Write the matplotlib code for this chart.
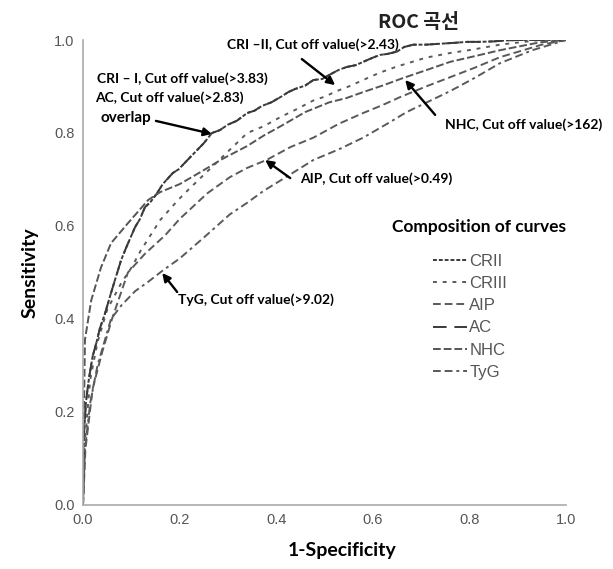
import matplotlib
matplotlib.use("Agg")
import matplotlib.pyplot as plt
from matplotlib.lines import Line2D

# ROC curve points (1-specificity, sensitivity)
cri1_x = [0, 0.002, 0.006, 0.012, 0.02, 0.028, 0.035, 0.045, 0.058, 0.068,
          0.079, 0.09, 0.108, 0.118, 0.128, 0.14, 0.153, 0.165, 0.186, 0.198,
          0.21, 0.222, 0.236, 0.25, 0.267, 0.283, 0.3, 0.318, 0.34, 0.355,
          0.37, 0.39, 0.41, 0.425, 0.44, 0.46, 0.477, 0.495, 0.51, 0.53,
          0.546, 0.565, 0.58, 0.6, 0.615, 0.63, 0.65, 0.665, 0.684, 0.71,
          0.74, 0.77, 0.795, 0.82, 0.85, 0.875, 0.9, 0.95, 1.0]
cri1_y = [0, 0.15, 0.22, 0.27, 0.32, 0.35, 0.38, 0.41, 0.456, 0.49,
          0.527, 0.555, 0.598, 0.615, 0.64, 0.652, 0.67, 0.69, 0.714, 0.722,
          0.735, 0.748, 0.763, 0.778, 0.80, 0.806, 0.818, 0.826, 0.843, 0.848,
          0.858, 0.866, 0.878, 0.888, 0.895, 0.902, 0.914, 0.916, 0.925, 0.936,
          0.942, 0.946, 0.953, 0.962, 0.968, 0.97, 0.975, 0.985, 0.99, 0.99,
          0.992, 0.994, 0.996, 0.996, 0.997, 0.999, 1.0, 1.0, 1.0]
# AC overlaps CRI-I
ac_x = list(cri1_x)
ac_y = list(cri1_y)

cri2_x = [0, 0.005, 0.015, 0.03, 0.05, 0.079, 0.1, 0.12, 0.16, 0.197, 0.22, 0.25, 0.275,
          0.3, 0.34, 0.375, 0.41, 0.44, 0.477, 0.5, 0.525, 0.55, 0.58, 0.615, 0.65, 0.71,
          0.76, 0.81, 0.863, 0.946, 1.0]
cri2_y = [0, 0.15, 0.27, 0.35, 0.42, 0.477, 0.51, 0.548, 0.613, 0.656, 0.68, 0.71, 0.735,
          0.76, 0.80, 0.815, 0.835, 0.85, 0.87, 0.878, 0.89, 0.9, 0.914, 0.93, 0.943, 0.962,
          0.972, 0.98, 0.99, 1.0, 1.0]

nhc_x = [0, 0.002, 0.004, 0.017, 0.037, 0.058, 0.093, 0.135, 0.16, 0.2, 0.24, 0.29, 0.34,
         0.375, 0.41, 0.46, 0.51, 0.545, 0.58, 0.62, 0.662, 0.71, 0.76, 0.81, 0.863, 0.946, 1.0]
nhc_y = [0, 0.2, 0.355, 0.44, 0.51, 0.563, 0.606, 0.656, 0.673, 0.69, 0.714, 0.745, 0.772,
         0.795, 0.815, 0.845, 0.866, 0.875, 0.888, 0.902, 0.918, 0.935, 0.953, 0.965, 0.978,
         0.995, 1.0]

aip_x = [0, 0.005, 0.02, 0.04, 0.06, 0.093, 0.128, 0.17, 0.2, 0.257, 0.304, 0.34, 0.38,
         0.43, 0.477, 0.53, 0.58, 0.62, 0.656, 0.71, 0.76, 0.81, 0.863, 0.95, 1.0]
aip_y = [0, 0.12, 0.25, 0.33, 0.40, 0.50, 0.54, 0.58, 0.615, 0.67, 0.705, 0.725, 0.742,
         0.77, 0.79, 0.82, 0.843, 0.86, 0.877, 0.9, 0.92, 0.94, 0.963, 0.99, 1.0]

tyg_x = [0, 0.004, 0.015, 0.03, 0.058, 0.08, 0.108, 0.135, 0.166, 0.2, 0.25, 0.304, 0.34,
         0.373, 0.42, 0.477, 0.53, 0.58, 0.63, 0.67, 0.71, 0.76, 0.81, 0.863, 0.93, 1.0]
tyg_y = [0, 0.12, 0.22, 0.30, 0.40, 0.43, 0.46, 0.48, 0.505, 0.53, 0.575, 0.625, 0.65,
         0.675, 0.705, 0.742, 0.765, 0.79, 0.82, 0.845, 0.865, 0.89, 0.918, 0.95, 0.978, 1.0]

curve_names = ["CRII", "CRIII", "AIP", "AC", "NHC", "TyG"]
ticks = [0.0, 0.2, 0.4, 0.6, 0.8, 1.0]

styles = {
    "CRII": dict(ls=(0, (2, 1)), color="#3a3a3a"),
    "CRIII": dict(ls=(0, (2, 3)), color="#5a5a5a"),
    "AIP": dict(ls=(0, (4, 2)), color="#5a5a5a"),
    "AC": dict(ls=(0, (7, 4)), color="#3a3a3a"),
    "NHC": dict(ls=(0, (4, 1.5)), color="#555555"),
    "TyG": dict(ls=(0, (4, 2, 4, 2, 1.5, 2)), color="#5a5a5a"),
}
data = {
    "CRII": (cri1_x, cri1_y),
    "CRIII": (cri2_x, cri2_y),
    "AIP": (aip_x, aip_y),
    "AC": (ac_x, ac_y),
    "NHC": (nhc_x, nhc_y),
    "TyG": (tyg_x, tyg_y),
}

fig = plt.figure(figsize=(6.13, 5.69), dpi=100)
ax = fig.add_axes([0.1354, 0.1125, 0.788, 0.8172])

for name in curve_names:
    x, y = data[name]
    ax.plot(x, y, lw=1.4, **styles[name])

ax.set_xlim(0, 1)
ax.set_ylim(0, 1)
ax.set_xticks(ticks)
ax.set_yticks(ticks)
ax.set_xticklabels([f"{t:.1f}" for t in ticks], family="Liberation Sans", fontsize=10.5, color="#555555")
ax.set_yticklabels([f"{t:.1f}" for t in ticks], family="Liberation Sans", fontsize=10.5, color="#555555")
ax.tick_params(length=0, pad=6)
for s in ["top", "right"]:
    ax.spines[s].set_visible(False)
for s in ["left", "bottom"]:
    ax.spines[s].set_color("#aaaaaa")
    ax.spines[s].set_linewidth(1.2)

ax.set_xlabel("1-Specificity", fontsize=14, fontweight="bold", family="Lato", va="center")
ax.set_ylabel("Sensitivity", fontsize=14, fontweight="bold", family="Lato", va="center")
ax.xaxis.set_label_coords(0.536, -0.097)
ax.yaxis.set_label_coords(-0.11, 0.5)
fig.text(0.682, 0.961, "ROC 곡선", ha="center", va="center", fontsize=14, fontweight="bold",
         family=["Noto Sans CJK KR", "DejaVu Sans"], color="#222222")

# annotations
font = dict(family="Lato", fontweight="bold", fontsize=10, color="black")
arrow = dict(arrowstyle="-|>", color="black", lw=1.7, mutation_scale=12, shrinkA=0, shrinkB=0)

ax.text(0.475, 0.989, "CRI –II, Cut off value(>2.43)", ha="center", va="center", **font)
ax.annotate("", xy=(0.522, 0.903), xytext=(0.453, 0.959), arrowprops=arrow)

ax.text(0.029, 0.916, "CRI – I, Cut off value(>3.83)", ha="left", va="center", **font)
ax.text(0.025, 0.877, "AC, Cut off value(>2.83)", ha="left", va="center", **font)
ax.text(0.037, 0.832, "overlap", ha="left", va="center", family="Lato", fontweight="bold",
        fontsize=11, color="black")
ax.annotate("", xy=(0.267, 0.798), xytext=(0.151, 0.826), arrowprops=arrow)

ax.text(0.749, 0.817, "NHC, Cut off value(>162)", ha="left", va="center", **font)
ax.annotate("", xy=(0.667, 0.914), xytext=(0.729, 0.839), arrowprops=arrow)

ax.text(0.449, 0.701, "AIP, Cut off value(>0.49)", ha="left", va="center", **font)
ax.annotate("", xy=(0.377, 0.742), xytext=(0.429, 0.703), arrowprops=arrow)

ax.text(0.197, 0.441, "TyG, Cut off value(>9.02)", ha="left", va="center", **font)
ax.annotate("", xy=(0.164, 0.499), xytext=(0.195, 0.458), arrowprops=arrow)

# legend
ax.text(0.82, 0.598, "Composition of curves", ha="center", va="center", family="Lato",
        fontweight="bold", fontsize=12.5, color="black")
handles = [Line2D([0], [0], lw=1.4, **styles[n]) for n in curve_names]
leg = ax.legend(handles, curve_names, frameon=False, loc="upper left",
                bbox_to_anchor=(0.725, 0.54), borderaxespad=0, borderpad=0,
                handlelength=2.05, handletextpad=0.12, labelspacing=0.43,
                prop={"family": "Liberation Sans", "size": 12})
for t in leg.get_texts():
    t.set_color("#555555")

fig.savefig("out.png", dpi=100)
